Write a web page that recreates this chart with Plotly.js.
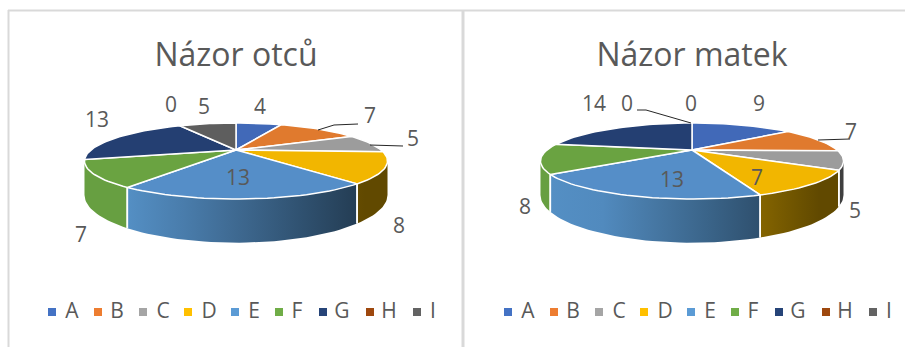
<!DOCTYPE html>
<html>
<head>
<meta charset="utf-8">
<script src="https://cdn.plot.ly/plotly-3.0.1.min.js"></script>
<style>html,body{margin:0;padding:0;background:#fff}#chart{width:905px;height:347px}</style>
</head>
<body>
<div id="chart"></div>
<script>
// Categories and answer counts
const categories = ['A','B','C','D','E','F','G','H','I'];
const fathers = [4,7,5,8,13,7,13,0,5];
const mothers = [9,7,5,7,13,8,14,0,0];
const titles = ['Názor otců','Názor matek'];

// Slice colours: top face, legend key and side wall
const topColors = ['#4169b8','#e07a2e','#9c9c9c','#f2b600','#558ec8','#6aa341','#243f72','#9e480e','#5e5e5e'];
const keyColors = ['#4472c4','#ed7d31','#a5a5a5','#ffc000','#5b9bd5','#70ad47','#264478','#9e480e','#636363'];

// Placement of each panel, in plot units (1 unit = 1 px)
const fatherLabelX = [260,370,413,399,238,81,97,171,204];
const fatherLabelY = [109,118,141,228,180,237,122,107,109];
const motherLabelX = [759,851,855,757,672,525,594,627,691];
const motherLabelY = [106,134,213,180,182,209,106,106,106];
const fatherKeyX = [52,98,143,188,235,279,323,370,417];
const fatherNameX = [72,117,163,209,254,297,342,389,433];
const motherKeyX = [508,554,599,644,691,735,779,826,873];
const motherNameX = [528,573,619,665,710,753,798,845,889];
const fatherLeaders = [[[318,130],[334,125],[358,124]], [[370,145],[403,146]]];
const motherLeaders = [[[637,110],[646,110],[691,123]], [[818,140],[850,139]]];

// Tilted-disc projection
const RX = 145, RY = 34.8, PERSP = 0.29, CY = 150, DEPTH = 31, HALF_WIDTH = 152;
function project(cx, deg, drop) {
  const t = deg * Math.PI / 180;
  const u = Math.sin(t), v = Math.cos(t), w = 1 / (1 + PERSP * v);
  return [cx + RX * u * w, CY - RY * v * w + drop * w];
}
// Wall lighting falls off from left to right across the disc
function shade(hex, s) {
  const f = Math.min(0.92, Math.max(0.38, 0.68 - 0.36 * s));
  const n = parseInt(hex.slice(1), 16);
  return 'rgb(' + [n >> 16, (n >> 8) & 255, n & 255].map(c => Math.round(c * f)).join(',') + ')';
}
const WALL_FROM = 107, WALL_TO = 253;

function pieTraces(cx, values) {
  const total = values.reduce((a, b) => a + b, 0);
  const walls = [], tops = [], edges = [];
  let cum = 0;
  values.forEach((val, i) => {
    const a0 = cum / total * 360;
    cum += val;
    const a1 = cum / total * 360;
    if (val === 0) return;

    // Side wall with a horizontal gradient
    const s0 = Math.max(a0, WALL_FROM), s1 = Math.min(a1, WALL_TO);
    if (s1 > s0) {
      const top = [], bottom = [], n = Math.ceil((s1 - s0) / 2);
      for (let k = 0; k <= n; k++) {
        const p = s0 + (s1 - s0) * k / n;
        top.push(project(cx, p, 0));
        bottom.unshift(project(cx, p, DEPTH));
      }
      const pts = top.concat(bottom, [top[0]]);
      const xv = pts.map(o => o[0]);
      const xMin = Math.min.apply(null, xv), xMax = Math.max.apply(null, xv);
      const stops = [0, 0.25, 0.5, 0.75, 1].map(t =>
        [t, shade(keyColors[i], (xMin + (xMax - xMin) * t - cx) / HALF_WIDTH)]);
      walls.push({type:'scatter', mode:'lines', x:xv, y:pts.map(o => o[1]), fill:'toself',
        fillgradient:{type:'horizontal', colorscale:stops, start:xMin, stop:xMax},
        line:{width:0}, hoverinfo:'skip', showlegend:false});
      [[a0, s0], [a1, s1]].forEach(([edge, clipped]) => {
        if (edge === clipped) {
          const seg = [project(cx, edge, 0), project(cx, edge, DEPTH)];
          edges.push({type:'scatter', mode:'lines', x:seg.map(o => o[0]), y:seg.map(o => o[1]),
            line:{color:'#ffffff', width:1.6}, hoverinfo:'skip', showlegend:false});
        }
      });
    }

    // Top face
    const xs = [cx], ys = [CY];
    const m = Math.max(2, Math.ceil((a1 - a0) / 2));
    for (let k = 0; k <= m; k++) {
      const pt = project(cx, a0 + (a1 - a0) * k / m, 0);
      xs.push(pt[0]); ys.push(pt[1]);
    }
    xs.push(cx); ys.push(CY);
    tops.push({type:'scatter', mode:'lines', x:xs, y:ys, fill:'toself', fillcolor:topColors[i],
      line:{color:'#ffffff', width:1.5}, name:categories[i], hoverinfo:'skip', showlegend:false});
  });
  return walls.concat(edges, tops);
}

function textTrace(x, y, text, size) {
  return {type:'scatter', mode:'text', x:x, y:y, text:text, textposition:'middle center',
    textfont:{family:'"Open Sans", sans-serif', size:size, color:'#595959'},
    hoverinfo:'skip', showlegend:false, cliponaxis:false};
}
function leaderTraces(list) {
  return list.map(seg => ({type:'scatter', mode:'lines', x:seg.map(p => p[0]), y:seg.map(p => p[1]),
    line:{color:'#262626', width:1}, hoverinfo:'skip', showlegend:false}));
}
function legendTraces(keyX, nameX) {
  const y = categories.map(() => 313);
  return [
    {type:'scatter', mode:'markers', x:keyX, y:categories.map(() => 312), hoverinfo:'skip', showlegend:false,
      marker:{symbol:'square', size:8, color:keyColors, line:{width:0}}},
    textTrace(nameX, y, categories, 21)
  ];
}

const data = [].concat(
  pieTraces(236, fathers), pieTraces(692, mothers),
  leaderTraces(fatherLeaders), leaderTraces(motherLeaders),
  textTrace(fatherLabelX, fatherLabelY, fathers.map(String), 21),
  textTrace(motherLabelX, motherLabelY, mothers.map(String), 21),
  legendTraces(fatherKeyX, fatherNameX), legendTraces(motherKeyX, motherNameX),
  textTrace([236, 692], [58, 58], titles, 32)
);

const hidden = {visible:false, fixedrange:true};
const frame = {type:'line', line:{color:'#d9d9d9', width:2}, layer:'below'};
const layout = {
  width:905, height:347, margin:{l:0, r:0, t:0, b:0},
  paper_bgcolor:'#ffffff', plot_bgcolor:'#ffffff', showlegend:false,
  xaxis:Object.assign({range:[0,905]}, hidden),
  yaxis:Object.assign({range:[347,0]}, hidden),
  shapes:[
    Object.assign({}, frame, {x0:8, x1:905, y0:10.5, y1:10.5}),
    Object.assign({}, frame, {x0:8.5, x1:8.5, y0:10, y1:347}),
    Object.assign({}, frame, {x0:463, x1:463, y0:10, y1:347, line:{color:'#d9d9d9', width:3}})
  ]
};
Plotly.newPlot('chart', data, layout, {displayModeBar:false, staticPlot:true});
</script>
</body>
</html>
